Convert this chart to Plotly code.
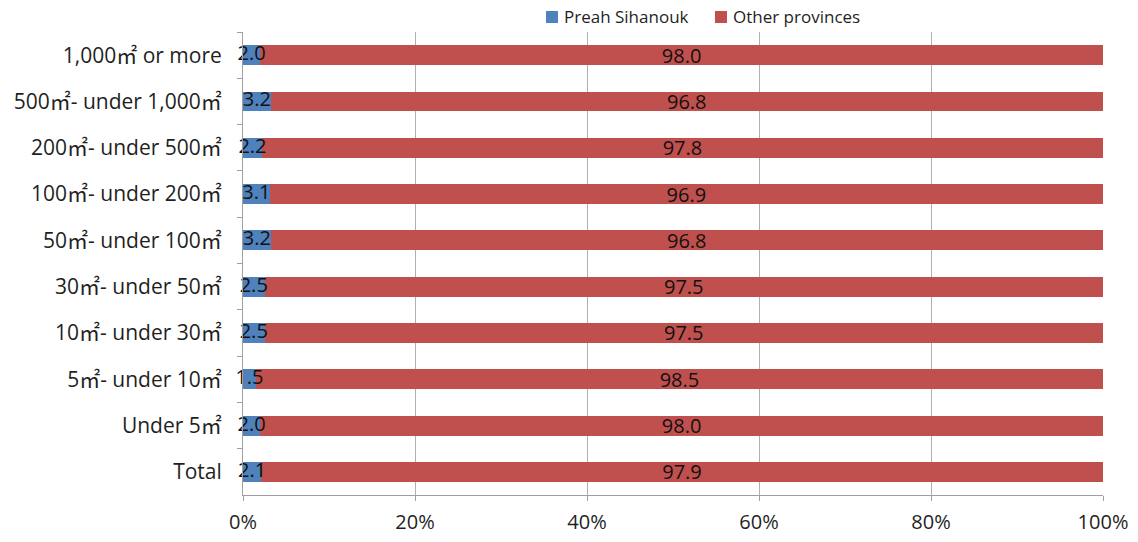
import plotly.graph_objects as go

# categories top to bottom
categories = [
    "1,000㎡ or more",
    "500㎡- under 1,000㎡",
    "200㎡- under 500㎡",
    "100㎡- under 200㎡",
    "50㎡- under 100㎡",
    "30㎡- under 50㎡",
    "10㎡- under 30㎡",
    "5㎡- under 10㎡",
    "Under 5㎡",
    "Total",
]
preah_sihanouk = [2.0, 3.2, 2.2, 3.1, 3.2, 2.5, 2.5, 1.5, 2.0, 2.1]
other_provinces = [98.0, 96.8, 97.8, 96.9, 96.8, 97.5, 97.5, 98.5, 98.0, 97.9]
series_names = ["Preah Sihanouk", "Other provinces"]
x_ticks = [0, 20, 40, 60, 80, 100]
x_tick_labels = ["0%", "20%", "40%", "60%", "80%", "100%"]

BLUE = "#4F81BD"
RED = "#C0504D"
_FONT = dict(family="'Open Sans', 'Noto Sans CJK JP', sans-serif", size=20, color="#1f1f1f")
_LABEL = dict(size=20, color="#111111")

fig = go.Figure()
fig.add_trace(
    go.Bar(
        name=series_names[0],
        y=categories,
        x=preah_sihanouk,
        orientation="h",
        marker=dict(color=BLUE, line=dict(width=0)),
        showlegend=False,
        hovertemplate="%{y}<br>%{x:.1f}<extra></extra>",
    )
)
fig.add_trace(
    go.Bar(
        name=series_names[1],
        y=categories,
        x=other_provinces,
        orientation="h",
        marker=dict(color=RED, line=dict(width=0)),
        text=[f"{v:.1f}" for v in other_provinces],
        textposition="inside",
        insidetextanchor="middle",
        textangle=0,
        constraintext="none",
        textfont=_LABEL,
        showlegend=False,
        hovertemplate="%{y}<br>%{x:.1f}<extra></extra>",
    )
)
# blue labels overflow their short bars, so draw them on top
fig.add_trace(
    go.Scatter(
        y=categories,
        x=[v / 2 for v in preah_sihanouk],
        mode="text",
        text=[f"{v:.1f}" for v in preah_sihanouk],
        textposition="middle center",
        textfont=_LABEL,
        cliponaxis=False,
        showlegend=False,
        hoverinfo="skip",
    )
)

# legend drawn by hand so it does not push the plot area down
legend_items = [(series_names[0], BLUE, 0.3523), (series_names[1], RED, 0.5488)]
for name, color, x0 in legend_items:
    fig.add_shape(
        type="rect",
        xref="paper",
        yref="paper",
        x0=x0,
        x1=x0 + 0.014,
        y0=1.0194,
        y1=1.0454,
        fillcolor=color,
        line=dict(width=0),
    )
    fig.add_annotation(
        text=name,
        xref="paper",
        yref="paper",
        x=x0 + 0.0186,
        y=1.0324,
        xanchor="left",
        yanchor="middle",
        showarrow=False,
        font=dict(size=17, color="#1f1f1f"),
    )

fig.update_layout(
    barmode="stack",
    bargap=0.57,
    template="plotly_white",
    paper_bgcolor="white",
    plot_bgcolor="white",
    font=_FONT,
    width=1138,
    height=542,
    margin=dict(l=243, r=35, t=32, b=47),
    showlegend=False,
    xaxis=dict(
        range=[0, 100],
        tickvals=x_ticks,
        ticktext=x_tick_labels,
        showgrid=True,
        gridcolor="#b0b0b0",
        gridwidth=1,
        zeroline=False,
        showline=True,
        linecolor="#a0a0a0",
        ticks="outside",
        ticklen=5,
        tickcolor="#a0a0a0",
        tickfont=dict(size=20),
        ticklabelstandoff=4,
        automargin=False,
    ),
    yaxis=dict(
        categoryorder="array",
        categoryarray=categories,
        autorange="reversed",
        showgrid=False,
        showline=True,
        linecolor="#a0a0a0",
        ticks="outside",
        tickson="boundaries",
        ticklen=5,
        tickcolor="#a0a0a0",
        tickfont=dict(size=21),
        ticklabelstandoff=16,
        automargin=False,
    ),
)
# drop the default 8px body margin so the figure fills the window exactly
fig.write_html(
    "out.html",
    config={"displayModeBar": False},
    post_script="document.body.style.margin='0';",
)
